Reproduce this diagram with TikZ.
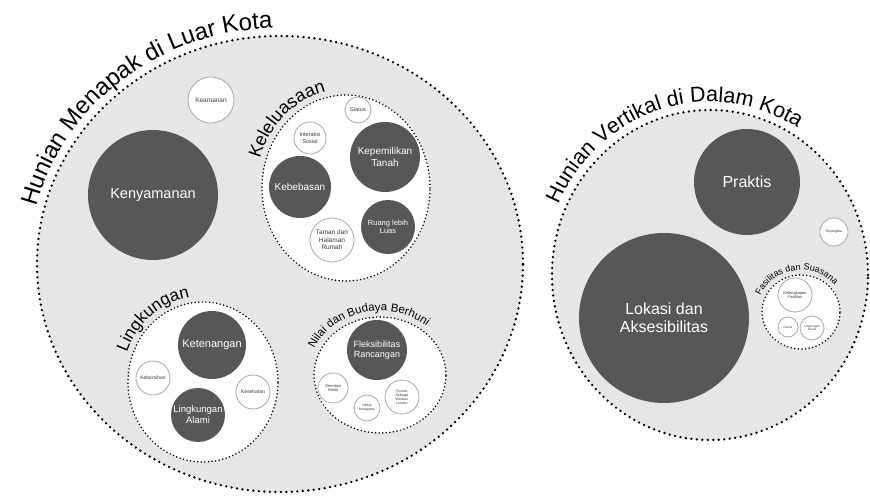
\documentclass[tikz,border=0pt]{standalone}
\usepackage{fontspec}
\setmainfont{Liberation Sans}
\usepackage{tikz}
\usetikzlibrary{decorations.text}

\definecolor{zonegray}{HTML}{E6E6E6}
\definecolor{discgray}{HTML}{575757}
\definecolor{ringgray}{HTML}{A8A8A8}
\definecolor{smalltext}{HTML}{3A3A3A}

\newcommand{\fsz}[1]{\fontsize{#1}{1.15\dimexpr#1pt\relax}\selectfont}

\tikzset{
    zone/.style = {fill=zonegray, draw=black, line width=2.6pt, dash pattern=on 0pt off 5.5pt, line cap=round},
    subzone/.style = {fill=white, draw=black, line width=1.7pt, dash pattern=on 0pt off 3.6pt, line cap=round},
    major/.style = {circle, fill=discgray, draw=none, text=white, align=center, inner sep=0pt},
    minor/.style = {circle, fill=white, draw=ringgray, line width=0.8pt, text=smalltext, align=center, inner sep=0pt},
    ringlabel/.style = {decorate, decoration={text along path, text={#1}}}
}

\begin{document}
\begin{tikzpicture}[x=1pt, y=1pt]
\useasboundingbox (0,0) rectangle (870,503);

% zones
\coordinate (luar) at (280,239);
\coordinate (dalam) at (710,228);
\coordinate (leluasa) at (346,315);
\coordinate (lingk) at (203,121);
\coordinate (nilai) at (380,128);
\coordinate (fasil) at (801,191);

\draw[zone] (luar) ellipse [x radius=243, y radius=228];
\draw[zone] (dalam) ellipse [x radius=158, y radius=165];
\draw[subzone] (leluasa) ellipse [x radius=84, y radius=93];
\draw[subzone] (lingk) ellipse [x radius=75, y radius=80];
\draw[subzone] (nilai) ellipse [x radius=66, y radius=58];
\draw[subzone] (fasil) ellipse [x radius=39, y radius=37];

% zone labels
\path[ringlabel={|\fsz{24}|Hunian Menapak di Luar Kota}]
    ([shift={(166:251 and 236)}]luar) arc [start angle=166, end angle=70, x radius=251, y radius=236];
\path[ringlabel={|\fsz{21.5}|Hunian Vertikal di Dalam Kota}]
    ([shift={(156:166 and 173)}]dalam) arc [start angle=156, end angle=40, x radius=166, y radius=173];
\path[ringlabel={|\fsz{18}|Keleluasaan}]
    ([shift={(163:90 and 99)}]leluasa) arc [start angle=163, end angle=80, x radius=90, y radius=99];
\path[ringlabel={|\fsz{17}|Lingkungan}]
    ([shift={(160:81 and 86)}]lingk) arc [start angle=160, end angle=80, x radius=81, y radius=86];
\path[ringlabel={|\fsz{11.5}|Nilai dan Budaya Berhuni}]
    ([shift={(156:72 and 64)}]nilai) arc [start angle=156, end angle=30, x radius=72, y radius=64];
\path[ringlabel={|\fsz{9}|Fasilitas dan Suasana}]
    ([shift={(157:44 and 42)}]fasil) arc [start angle=157, end angle=25, x radius=44, y radius=42];

% hunian menapak
\node[minor, minimum size=46, font=\fsz{6.5}] (keamanan) at (211,403) {Keamanan};
\node[major, minimum size=130, font=\fsz{14.5}] (kenyamanan) at (153,308) {Kenyamanan};

\node[minor, minimum size=26, font=\fsz{5.5}] (status) at (358,393) {Status};
\node[minor, minimum size=32, font=\fsz{5.5}] (interaksi) at (310,365) {Interaksi\\Sosial};
\node[major, minimum size=70, font=\fsz{10}] (kepemilikan) at (385,346) {Kepemilikan\\Tanah};
\node[major, minimum size=62, font=\fsz{10}] (kebebasan) at (300,316) {Kebebasan};
\node[minor, minimum size=44, font=\fsz{6.5}] (taman) at (332,263) {Taman dan\\Halaman\\Rumah};
\node[major, minimum size=54, font=\fsz{7.5}] (ruang) at (388,276) {Ruang lebih\\Luas};

\node[major, minimum size=68, font=\fsz{11}] (ketenangan) at (212,158) {Ketenangan};
\node[minor, minimum size=34, font=\fsz{5}] (kebersihan) at (153,125) {Kebersihan};
\node[minor, minimum size=34, font=\fsz{5}] (kesehatan) at (253,111) {Kesehatan};
\node[major, minimum size=54, font=\fsz{9.5}] (alami) at (198,88) {Lingkungan\\Alami};

\node[major, minimum size=60, font=\fsz{9}] (fleksibel) at (377,153) {Fleksibilitas\\Rancangan};
\node[minor, minimum size=30, font=\fsz{4}] (orientasi) at (333,115) {Orientasi\\Kiblat};
\node[minor, minimum size=26, font=\fsz{3.5}] (hidup) at (367,95) {Hidup\\beragama};
\node[minor, minimum size=34, font=\fsz{3.5}] (warisan) at (402,106) {Rumah\\Sebagai\\Warisan\\Leluhur};

% hunian vertikal
\node[major, minimum size=106, font=\fsz{16}] (praktis) at (747,321) {Praktis};
\node[major, minimum size=170, font=\fsz{16}] (lokasi) at (664,185) {Lokasi dan\\Aksesibilitas};
\node[minor, minimum size=28, font=\fsz{3.5}] (terjangkau) at (834,271) {Terjangkau};
\node[minor, minimum size=34, font=\fsz{4}] (kelengkapan) at (795,208) {Kelengkapan\\Fasilitas};
\node[minor, minimum size=20, font=\fsz{3}] (ramai) at (788,176) {Ramai};
\node[minor, minimum size=24, font=\fsz{3}] (sosial) at (812,175) {Lingkungan\\Sosial};
\end{tikzpicture}
\end{document}
